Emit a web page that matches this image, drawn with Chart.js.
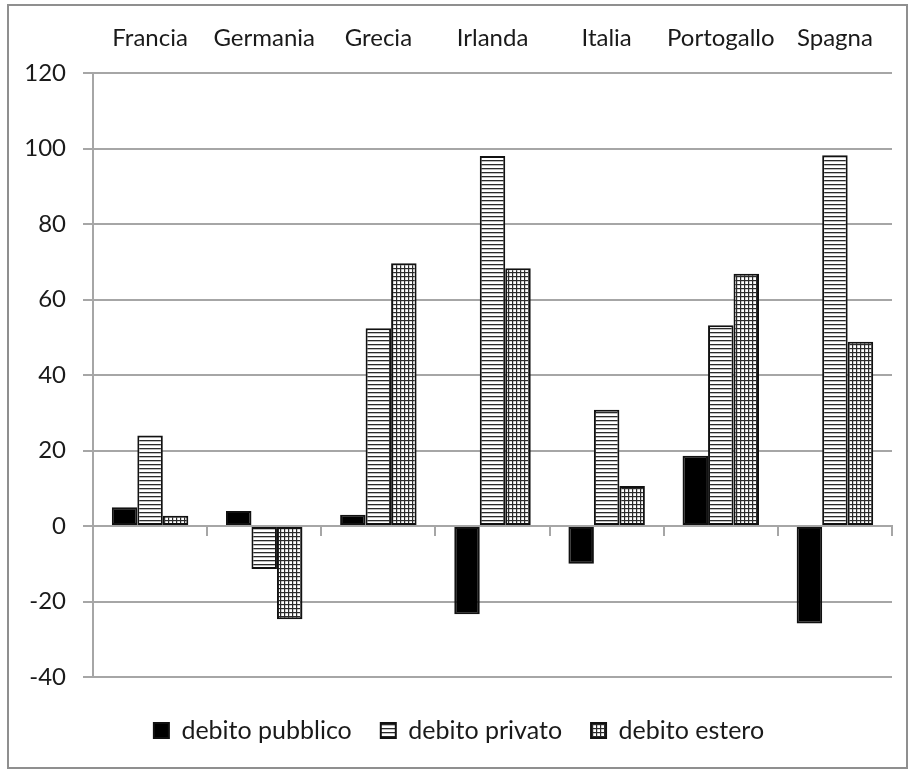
<!DOCTYPE html>
<html>
<head>
<meta charset="utf-8">
<title>Debito pubblico, privato ed estero</title>
<script src="https://cdn.jsdelivr.net/npm/chart.js@4/dist/chart.umd.min.js"></script>
<style>
  html, body { margin: 0; padding: 0; background: #ffffff; }
  #wrap { position: relative; width: 911px; height: 770px; }
</style>
</head>
<body>
<div id="wrap"><canvas id="chart" width="911" height="770"></canvas></div>
<script>
// Paesi
const countries = ['Francia', 'Germania', 'Grecia', 'Irlanda', 'Italia', 'Portogallo', 'Spagna'];

// Variazioni in punti di PIL
const debitoPubblico = [5, 4, 3, -23.4, -10, 18.6, -25.8];
const debitoPrivato = [24, -11.4, 52.4, 98, 30.8, 53.2, 98.2];
const debitoEstero = [2.7, -24.7, 69.6, 68.3, 10.6, 66.8, 48.8];

const seriesNames = ['debito pubblico', 'debito privato', 'debito estero'];

// Asse dei valori
const yMin = -40, yMax = 120, yStep = 20;

const FONT = 'Lato, "Open Sans", sans-serif';

// Riempimento a righe orizzontali
function stripePattern() {
  const c = document.createElement('canvas');
  c.width = 4; c.height = 4;
  const g = c.getContext('2d');
  g.fillStyle = '#ffffff';
  g.fillRect(0, 0, 4, 4);
  g.fillStyle = '#2a2a2a';
  g.fillRect(0, 0, 4, 1.3);
  return g.createPattern(c, 'repeat');
}

// Riempimento a quadretti
function gridPattern() {
  const c = document.createElement('canvas');
  c.width = 4; c.height = 4;
  const g = c.getContext('2d');
  g.fillStyle = '#ffffff';
  g.fillRect(0, 0, 4, 4);
  g.fillStyle = '#2a2a2a';
  g.fillRect(0, 0, 4, 1.2);
  g.fillRect(0, 0, 1.2, 4);
  return g.createPattern(c, 'repeat');
}

// Cornice grigia attorno al grafico
const framePlugin = {
  id: 'frame',
  beforeDraw(chart) {
    const ctx = chart.ctx;
    ctx.save();
    ctx.fillStyle = '#ffffff';
    ctx.fillRect(0, 0, chart.width, chart.height);
    ctx.restore();
  },
  afterDraw(chart) {
    const ctx = chart.ctx;
    ctx.save();
    ctx.strokeStyle = '#8f8f8f';
    ctx.lineWidth = 2;
    ctx.strokeRect(8, 5, 899, 763);
    ctx.restore();
  }
};

const barStyle = {
  borderColor: '#111111',
  borderWidth: 2,
  borderSkipped: false,
  categoryPercentage: 0.67,
  barPercentage: 1.0
};

new Chart(document.getElementById('chart'), {
  type: 'bar',
  data: {
    labels: countries,
    datasets: [
      Object.assign({ label: seriesNames[0], data: debitoPubblico, backgroundColor: '#000000' }, barStyle),
      Object.assign({ label: seriesNames[1], data: debitoPrivato, backgroundColor: stripePattern() }, barStyle),
      Object.assign({ label: seriesNames[2], data: debitoEstero, backgroundColor: gridPattern() }, barStyle)
    ]
  },
  options: {
    responsive: false,
    animation: false,
    devicePixelRatio: 1,
    layout: { padding: { left: 26, right: 19, top: 0, bottom: 17 } },
    plugins: {
      tooltip: { enabled: false },
      legend: {
        position: 'bottom',
        labels: {
          font: { family: FONT, size: 25 },
          color: '#1a1a1a',
          boxWidth: 15,
          boxHeight: 15,
          padding: 29
        }
      }
    },
    scales: {
      x: {
        type: 'category',
        position: 'top',
        grid: { display: false },
        border: { display: false },
        ticks: {
          font: { family: FONT, size: 24 },
          color: '#1a1a1a',
          padding: 12,
          maxRotation: 0,
          autoSkip: false
        },
        afterFit(scale) { scale.height = 73; }
      },
      xGap: {
        type: 'category',
        labels: countries,
        position: 'bottom',
        grid: { display: false },
        border: { display: false },
        ticks: { display: false },
        afterFit(scale) { scale.height = 12; }
      },
      xZero: {
        type: 'category',
        labels: countries,
        position: { y: 0 },
        offset: true,
        grid: {
          offset: true,
          drawOnChartArea: false,
          drawTicks: true,
          tickLength: 9,
          color: '#a6a6a6',
          lineWidth: 2
        },
        border: { display: true, color: '#a6a6a6', width: 2 },
        ticks: { display: false }
      },
      y: {
        min: yMin,
        max: yMax,
        ticks: {
          stepSize: yStep,
          font: { family: FONT, size: 24 },
          color: '#1a1a1a',
          padding: 17
        },
        grid: {
          color: '#a6a6a6',
          lineWidth: 2,
          tickLength: 10,
          drawTicks: true
        },
        border: { display: true, color: '#a6a6a6', width: 2 },
        afterFit(scale) { scale.width = 67; }
      }
    }
  },
  plugins: [framePlugin]
});
</script>
</body>
</html>
